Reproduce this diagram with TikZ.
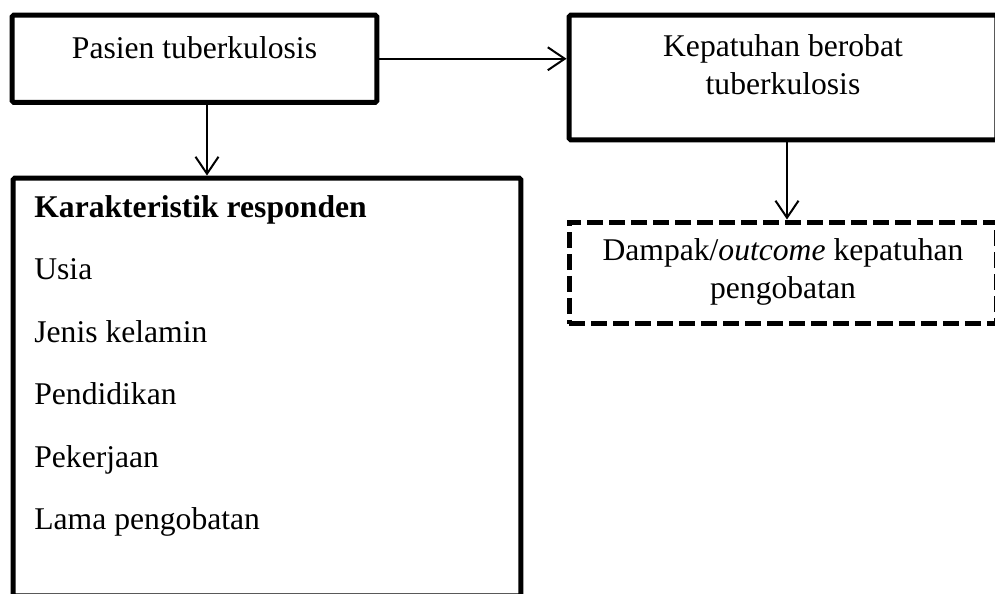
\documentclass[tikz,border=0pt]{standalone}
\usepackage{fontspec}
\setmainfont{Liberation Serif}
\usetikzlibrary{arrows.meta}

\begin{document}
\begin{tikzpicture}[x=0.02cm,y=-0.02cm,
  box/.style={draw,line width=0.1cm,rounded corners=1pt,inner sep=0pt},
  dashbox/.style={draw,line width=0.1cm,dash pattern=on 0.32cm off 0.12cm,
                  inner sep=0pt},
  lbl/.style={font=\fontsize{18pt}{21.5pt}\selectfont,align=center,inner sep=0pt},
  listtext/.style={font=\fontsize{18pt}{35.5pt}\selectfont,align=left,inner sep=0pt},
  arr/.style={-{Straight Barb[length=0.34cm,width=0.46cm]},line width=0.04cm}]
\useasboundingbox (0,0) rectangle (995,594);
% boxes
\node[box,minimum width=7.3cm,minimum height=1.75cm] (pasien) at (194.5,58.75) {};
\node[box,minimum width=8.56cm,minimum height=2.5cm] (patuh) at (783,77.5) {};
\node[box,minimum width=10.16cm,minimum height=8.36cm] (resp) at (267,387) {};
\node[dashbox,minimum width=8.56cm,minimum height=2.04cm] (dampak) at (783,273) {};
% texts
\node[lbl,anchor=base] (pasientxt) at (194.5,59) {Pasien tuberkulosis};
\node[lbl] (patuhtxt) at (783,64.5) {Kepatuhan berobat\\tuberkulosis};
\node[lbl] (dampaktxt) at (783,272)
  {Dampak/\textit{outcome} kepatuhan\\pengobatan};
\node[listtext,anchor=north west] (resptxt) at (34,195.3)
  {\textbf{Karakteristik responden}\\Usia\\Jenis kelamin\\Pendidikan\\Pekerjaan\\Lama pengobatan};
% arrows
\draw[arr] (pasien.east) -- (pasien.east -| patuh.west);
\draw[arr] ([xshift=0.25cm]pasien.south) -- ([xshift=0.25cm]pasien.south |- resp.north);
\draw[arr] ([xshift=0.08cm]patuh.south) -- ([xshift=0.08cm]dampak.north);
\end{tikzpicture}
\end{document}
